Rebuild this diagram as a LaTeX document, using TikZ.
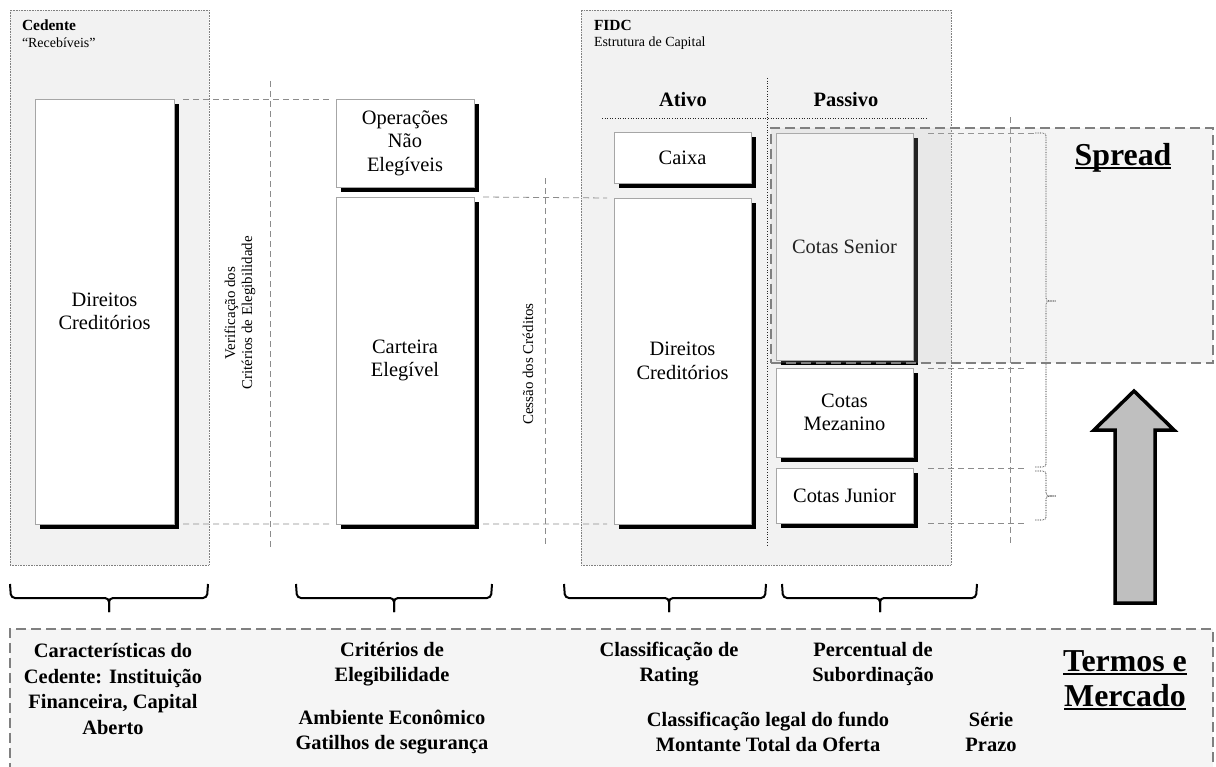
\documentclass[tikz,border=0pt]{standalone}
\usepackage{fontspec}
\setmainfont{Liberation Serif}
\usetikzlibrary{shadows}
\definecolor{panelfill}{HTML}{F2F2F2}
\definecolor{lightfill}{HTML}{F5F5F5}
\definecolor{guidegray}{HTML}{8C8C8C}
\definecolor{dashgray}{HTML}{808080}
\definecolor{arrowgray}{HTML}{BFBFBF}
\definecolor{overlaygray}{HTML}{C0C0C0}
\begin{document}
\begin{tikzpicture}[x=1bp,y=-1bp,
  every node/.style={inner sep=0pt, outer sep=0pt},
  panel/.style={draw=gray, densely dotted, line width=0.6bp, fill=panelfill, anchor=north west},
  sbox/.style={draw=gray!70, line width=0.8bp, fill=white, align=center,
    font=\fontsize{20.5}{23.5}\selectfont, anchor=north west,
    drop shadow={shadow xshift=5bp, shadow yshift=-5bp, fill=black, opacity=1}},
  guide/.style={draw=guidegray, dash pattern=on 6bp off 4bp, line width=0.8bp},
  divider/.style={draw=black!85, dotted, line width=0.6bp},
  bigdash/.style={draw=dashgray, dash pattern=on 10bp off 5bp, line width=2.5bp, anchor=north west},
  dbrace/.style={draw=black, densely dotted, line width=0.7bp, rounded corners=3bp},
  bbrace/.style={draw=black, line width=2bp, rounded corners=4bp},
  note/.style={font=\bfseries\fontsize{20.5}{25.5}\selectfont, align=center},
  headline/.style={font=\bfseries\fontsize{32}{34}\selectfont, anchor=base},
  smallbold/.style={font=\bfseries\fontsize{15.5}{17}\selectfont, anchor=west},
  smallreg/.style={font=\fontsize{14}{16}\selectfont, anchor=west},
  colhead/.style={font=\bfseries\fontsize{20.5}{23}\selectfont},
  vlabel/.style={rotate=90, align=center, font=\fontsize{15}{17}\selectfont}
]
\clip (0,0) rectangle (1216,767);

% panels
\node[panel, minimum width=199bp, minimum height=555bp] (cedente) at (10,10) {};
\node[panel, minimum width=370bp, minimum height=555bp] (fidc) at (581,10) {};

\node[smallbold] (cedtitle) at (22,25) {Cedente};
\node[smallreg] (cedsub) at (22,43) {“Recebíveis”};
\node[smallbold] (fidctitle) at (594,25) {FIDC};
\node[smallreg] (fidcsub) at (594,43) {Estrutura de Capital};

% dividers inside FIDC
\coordinate (dvt) at (767,78);
\coordinate (dvb) at (767,545);
\coordinate (dhl) at (602,118);
\coordinate (dhr) at (927,118);
\draw[divider] (dvt) -- (dvb);
\draw[divider] (dhl) -- (dhr);
\node[colhead] (ativo) at (683,100) {Ativo};
\node[colhead] (passivo) at (846,100) {Passivo};

% vertical guides
\coordinate (g1t) at (270,81);  \coordinate (g1b) at (270,548);
\coordinate (g2t) at (545,178); \coordinate (g2b) at (545,548);
\coordinate (g3t) at (1010,117); \coordinate (g3b) at (1010,547);
\draw[guide] (g1t) -- (g1b);
\draw[guide] (g2t) -- (g2b);
\draw[guide] (g3t) -- (g3b);

\node[vlabel] (verif) at (240,313) {Verificação dos\\Critérios de Elegibilidade};
\node[vlabel] (cessao) at (528,364) {Cessão dos Créditos};

% boxes
\node[sbox, minimum width=139bp, minimum height=425bp] (dcl) at (35,99) {Direitos\\Creditórios};
\node[sbox, minimum width=138bp, minimum height=88bp] (op) at (336,99) {Operações\\Não\\Elegíveis};
\node[sbox, minimum width=138bp, minimum height=327bp] (ce) at (336,197) {Carteira\\Elegível};
\node[sbox, minimum width=137bp, minimum height=51bp] (cx) at (614,132) {Caixa};
\node[sbox, minimum width=137bp, minimum height=326bp] (da) at (614,198) {Direitos\\Creditórios};
\node[sbox, minimum width=137bp, minimum height=227bp] (cs) at (776,133) {Cotas Senior};
\node[sbox, minimum width=137bp, minimum height=89bp] (cm) at (776,368) {Cotas\\Mezanino};
\node[sbox, minimum width=137bp, minimum height=55bp] (cj) at (776,468) {Cotas Junior};

% horizontal guides
\draw[guide] ([xshift=9bp]dcl.north east) -- ([xshift=-6bp]op.north west);
\draw[guide] ([xshift=9bp]dcl.south east) -- ([xshift=-6bp]ce.south west);
\draw[guide] ([xshift=9bp]ce.north east) -- ([xshift=-7bp]da.north west);
\draw[guide] ([xshift=9bp]ce.south east) -- ([xshift=-7bp]da.south west);
\coordinate (rguide) at (1027,0);
\coordinate (rbrace) at (1035,0);
\draw[guide] ([xshift=15bp]cs.north east) -- (cs.north east -| rbrace);
\draw[guide] ([xshift=15bp]cm.north east) -- (cm.north east -| rguide);
\draw[guide] ([xshift=15bp]cj.north east) -- (cj.north east -| rguide);
\draw[guide] ([xshift=15bp]cj.south east) -- (cj.south east -| rguide);

% dotted braces
\draw[dbrace] (cs.north east -| rbrace) -- (1046,133) -- (1046,301) -- (1056,301);
\draw[dbrace] (1035,467) -- (1046,467) -- (1046,301) -- (1056,301);
\draw[dbrace] (1035,471) -- (1046,471) -- (1046,496) -- (1056,496);
\draw[dbrace] (1035,520) -- (1046,520) -- (1046,496) -- (1056,496);

% spread overlay
\node[bigdash, fill=overlaygray, fill opacity=0.18, minimum width=442bp, minimum height=235bp] (spread) at (771,128) {};
\node[headline] (spreadtxt) at (1123,165) {Spread};
\draw[line width=2.2bp] ([yshift=-3bp]spreadtxt.base west) -- ([yshift=-3bp]spreadtxt.base east);

% big arrow
\draw[line width=3.5bp, fill=arrowgray, line join=miter]
  (1134,391) -- (1174,430) -- (1155,430) -- (1155,603) -- (1115,603) -- (1115,430) -- (1094,430) -- cycle;

% bottom braces
\draw[bbrace] (10,584) -- (11,598) -- (109,598) -- (109,612);
\draw[bbrace] (208,584) -- (207,598) -- (109,598) -- (109,612);
\draw[bbrace] (296,584) -- (297,598) -- (394,598) -- (394,612);
\draw[bbrace] (492,584) -- (491,598) -- (394,598) -- (394,612);
\draw[bbrace] (564,584) -- (565,598) -- (669,598) -- (669,612);
\draw[bbrace] (766,584) -- (765,598) -- (669,598) -- (669,612);
\draw[bbrace] (782,584) -- (783,598) -- (880,598) -- (880,612);
\draw[bbrace] (977,584) -- (976,598) -- (880,598) -- (880,612);

% bottom panel
\node[bigdash, fill=lightfill, minimum width=1203bp, minimum height=160bp] (termos) at (10,629) {};
\node[note] (t1) at (113,689) {Características do\\Cedente: Instituição\\Financeira, Capital\\Aberto};
\node[note] (t2) at (392,664) {Critérios de\\Elegibilidade};
\node[note] (t3) at (392,732) {Ambiente Econômico\\Gatilhos de segurança};
\node[note] (t4) at (669,664) {Classificação de\\Rating};
\node[note] (t5) at (873,664) {Percentual de\\Subordinação};
\node[note] (t6) at (768,732) {Classificação legal do fundo\\Montante Total da Oferta};
\node[note] (t7) at (991,732) {Série\\Prazo};
\node[headline] (termostxt) at (1125,671) {Termos e};
\node[headline] (mercadotxt) at (1125,706) {Mercado};
\draw[line width=2.2bp] ([yshift=-3bp]termostxt.base west) -- ([yshift=-3bp]termostxt.base east);
\draw[line width=2.2bp] ([yshift=-3bp]mercadotxt.base west) -- ([yshift=-3bp]mercadotxt.base east);
\end{tikzpicture}
\end{document}
